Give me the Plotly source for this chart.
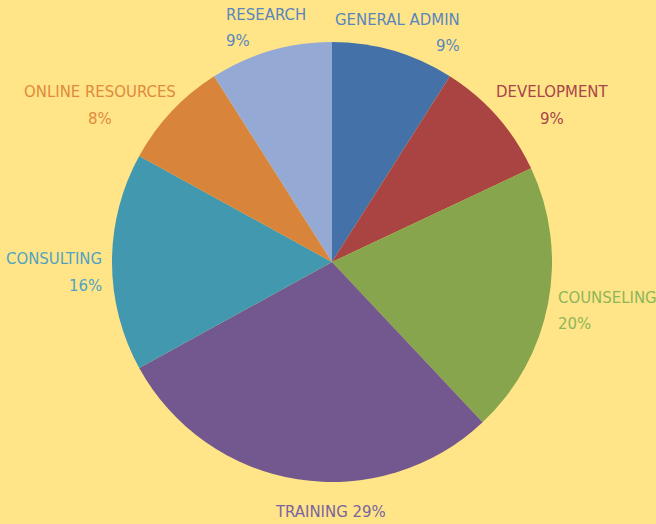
import plotly.graph_objects as go

labels = ["GENERAL ADMIN", "DEVELOPMENT", "COUNSELING", "TRAINING", "CONSULTING", "ONLINE RESOURCES", "RESEARCH"]
values = [9, 9, 20, 29, 16, 8, 9]
colors = ["#4472A8", "#A94442", "#87A54C", "#73588F", "#4198AF", "#D9843B", "#94A9D3"]
text_colors = ["#5A85BE", "#A8444A", "#8DB55A", "#7A63A0", "#4FA3C2", "#E08A3E", "#5A85BE"]

W, H = 656, 524
FONT = "DejaVu Sans Condensed, Liberation Sans Narrow, sans-serif"

fig = go.Figure(go.Pie(
    labels=labels, values=values, sort=False, direction="clockwise", rotation=0,
    marker=dict(colors=colors, line=dict(width=0)),
    textinfo="none",
    domain=dict(x=[(332-220)/W, (332+220)/W], y=[42/H, 482/H]),
    showlegend=False, hoverinfo="label+percent",
))

# label placement: (x px, name y px, percent y px or None for single line, alignment)
label_pos = [
    (462, 20, 46, "right"),
    (552, 92, 118, "center"),
    (556, 297, 323, "left"),
    (330, 511, None, "center"),
    (104, 258, 285, "right"),
    (100, 92, 118, "center"),
    (224, 15, 40, "left"),
]
total = sum(values)

def ann(text, px, py, al, col):
    fig.add_annotation(
        x=px / W, y=1 - py / H, xref="paper", yref="paper", text=text,
        showarrow=False, xanchor=al, yanchor="middle", align=al,
        font=dict(color=col, size=16.6, family=FONT),
    )

for lab, val, col, (px, ny, py, al) in zip(labels, values, text_colors, label_pos):
    pct = f"{round(100 * val / total)}%"
    if py is None:
        ann(f"{lab} {pct}", px, ny, al, col)
    else:
        ann(lab, px, ny, al, col)
        ann(pct, px, py, al, col)

fig.update_layout(width=W, height=H, margin=dict(l=0, r=0, t=0, b=0),
                  paper_bgcolor="#FFE587", plot_bgcolor="#FFE587")
fig.write_html("out.html", config={"displayModeBar": False})
with open("out.html", encoding="utf-8") as f:
    html = f.read()
html = html.replace("<body>", '<body style="margin:0;padding:0;overflow:hidden">', 1)
with open("out.html", "w", encoding="utf-8") as f:
    f.write(html)
